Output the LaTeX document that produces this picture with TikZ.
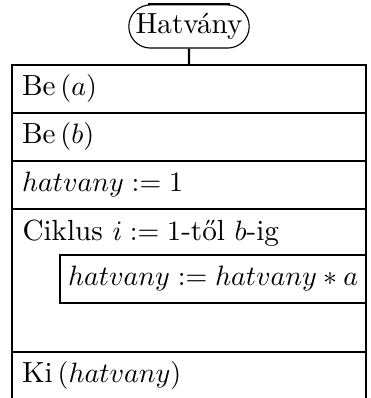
\documentclass[tikz,border=0pt]{standalone}
\usepackage{amsmath}
\usepackage{tikz}
\usetikzlibrary{positioning, shapes.misc}

\begin{document}
\begin{tikzpicture}[x=1pt, y=1pt,
    every node/.style={font=\fontsize{10.4}{12.5}\selectfont},
    title/.style={rounded rectangle, draw, line width=0.4pt, minimum width=45pt, minimum height=15.4pt, inner sep=1pt},
    rowbox/.style={draw, line width=0.75pt, outer sep=0pt, anchor=north west, minimum width=126.4pt, minimum height=17.14pt, text width=119.3pt, inner xsep=3.57pt, inner ysep=0pt, align=left},
    bodybox/.style={draw, line width=0.75pt, outer sep=0pt, anchor=north west, minimum width=109.3pt, minimum height=17.14pt, text width=103.6pt, inner xsep=2.86pt, inner ysep=0pt, align=left},
    conn/.style={line width=0.75pt}]
  \useasboundingbox (0,0) rectangle (132.14,-142.14);
  \node[title] (start) at (67.5,-9.46) {Hatvány};
  \draw[line width=0.8pt] ([xshift=-14.8pt]start.north) -- ([xshift=14.8pt]start.north);
  \node[rowbox] (bea) at (4.29,-23.2) {Be\,$(a)$};
  \node[rowbox, below=0pt of bea] (beb) {Be\,$(b)$};
  \node[rowbox, below=0pt of beb] (init) {$hatvany := 1$};
  \node[rowbox, below=0pt of init, minimum height=51.07pt] (loop) {};
  \node[anchor=west, inner xsep=3.57pt, inner ysep=0pt] (loophead) at ([yshift=-8.57pt]loop.north west) {Ciklus $i := 1$-től $b$-ig};
  \node[bodybox] (body) at ([xshift=17.14pt, yshift=-16.43pt]loop.north west) {$hatvany := hatvany * a$};
  \node[rowbox, below=0pt of loop] (out) {Ki\,$(hatvany)$};
  \draw[conn] (start) -- (bea);
\end{tikzpicture}
\end{document}
